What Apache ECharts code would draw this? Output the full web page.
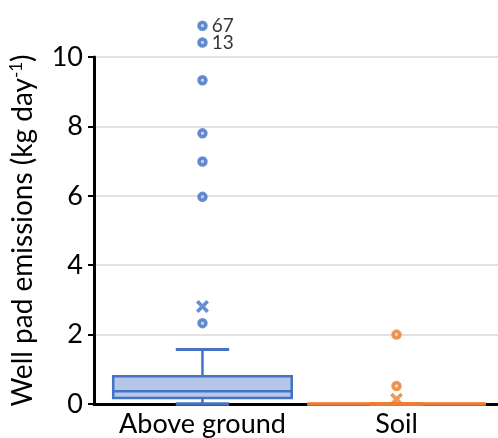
<!DOCTYPE html>
<html>
<head>
<meta charset="utf-8">
<script src="https://cdn.jsdelivr.net/npm/echarts@6/dist/echarts.min.js"></script>
<style>html,body{margin:0;padding:0;background:#fff;}#chart{width:498px;height:438px;}</style>
</head>
<body>
<div id="chart"></div>
<script>
// ---- data ----
const categories = ['Above ground', 'Soil'];
// [min, Q1, median, Q3, max(upper whisker)]
const boxStats = [
  [0, 0.17, 0.37, 0.80, 1.57],
  [0, 0, 0, 0, 0]
];
const means = [2.81, 0.14];
const aboveOutliers = [2.33, 5.97, 6.99, 7.80, 9.33, 10.42, 10.90];
const aboveOutlierLabels = ['', '', '', '', '', '13', '67'];
const soilOutliers = [0.52, 2.00];
const yTicks = [0, 2, 4, 6, 8, 10];

const colors = ['#4472c4', '#ed7d31'];
const fills = ['#b4c7e7', '#f8cbad'];
const FONT = 'Lato';

const boxData = boxStats.map((s, i) => [i].concat(s));

const chart = echarts.init(document.getElementById('chart'), null, {renderer: 'canvas'});
const option = {
  animation: false,
  textStyle: {fontFamily: FONT},
  grid: {left: 92, right: 0, top: 57, bottom: 31.5, containLabel: false},
  xAxis: {
    type: 'value',
    min: -0.559,
    max: 1.523,
    splitLine: {show: false},
    axisTick: {show: false},
    axisLine: {show: true, onZero: false, lineStyle: {color: '#000', width: 3}},
    axisLabel: {
      customValues: [0, 1],
      formatter: v => categories[Math.round(v)],
      color: '#000', fontSize: 27, fontFamily: FONT, margin: 7
    }
  },
  yAxis: {
    type: 'value',
    min: yTicks[0],
    max: yTicks[yTicks.length - 1],
    interval: 2,
    name: 'Well pad emissions (kg day{sup|-1})',
    nameLocation: 'middle',
    nameRotate: 90,
    nameGap: 57,
    nameTextStyle: {
      color: '#000', fontSize: 28, fontFamily: FONT,
      rich: {sup: {fontSize: 17, verticalAlign: 'top', padding: [0,0,12,0], color: '#000', fontFamily: FONT}}
    },
    axisLine: {show: true, onZero: false, lineStyle: {color: '#000', width: 3}},
    axisTick: {show: true, inside: false, length: 6, lineStyle: {color: '#000', width: 2}},
    axisLabel: {color: '#000', fontSize: 27, fontFamily: FONT, margin: 11},
    splitLine: {show: true, lineStyle: {color: '#d9d9d9', width: 1.5}}
  },
  series: [
    {
      type: 'custom',
      data: boxData,
      clip: false,
      z: 3,
      encode: {x: 0, y: [1, 2, 3, 4, 5]},
      renderItem: function (params, api) {
        const i = params.dataIndex;
        const x = api.value(0);
        const mn = api.value(1), q1 = api.value(2), med = api.value(3), q3 = api.value(4), mx = api.value(5);
        const unit = api.size([1, 0])[0];
        const bw = unit * 0.92, cw = unit * 0.275;
        const cx = api.coord([x, 0])[0];
        const y = v => api.coord([x, v])[1];
        const stroke = colors[i];
        const ls = {stroke: stroke, lineWidth: 2.5, fill: null};
        return {
          type: 'group',
          children: [
            {type: 'line', shape: {x1: cx, y1: y(q3), x2: cx, y2: y(mx)}, style: ls},
            {type: 'line', shape: {x1: cx - cw / 2, y1: y(mx), x2: cx + cw / 2, y2: y(mx)}, style: Object.assign({}, ls, {lineWidth: 3})},
            {type: 'line', shape: {x1: cx, y1: y(q1), x2: cx, y2: y(mn)}, style: ls},
            {type: 'line', shape: {x1: cx - cw / 2, y1: y(mn), x2: cx + cw / 2, y2: y(mn)}, style: Object.assign({}, ls, {lineWidth: 3.5})},
            {type: 'rect', shape: {x: cx - bw / 2, y: y(q3), width: bw, height: y(q1) - y(q3)},
              style: {fill: fills[i], stroke: stroke, lineWidth: 2.5}},
            {type: 'line', shape: {x1: cx - bw / 2, y1: y(med), x2: cx + bw / 2, y2: y(med)}, style: Object.assign({}, ls, {lineWidth: i === 1 ? 3.5 : 2.5})}
          ]
        };
      }
    },
    {
      type: 'scatter',
      clip: false,
      z: 4,
      symbol: 'circle',
      symbolSize: 7,
      itemStyle: {color: '#b4c7e7', borderColor: colors[0], borderWidth: 3.5},
      label: {
        show: true, position: 'right', distance: 4,
        formatter: p => aboveOutlierLabels[p.dataIndex],
        color: '#000', fontSize: 19, fontFamily: FONT
      },
      data: aboveOutliers.map(v => [0, v])
    },
    {
      type: 'scatter',
      clip: false,
      z: 4,
      symbol: 'circle',
      symbolSize: 7,
      itemStyle: {color: '#f8cbad', borderColor: colors[1], borderWidth: 3.5},
      data: soilOutliers.map(v => [1, v])
    },
    {
      type: 'scatter',
      clip: false,
      z: 5,
      symbol: 'path://M2,0 L5,3 L8,0 L10,2 L7,5 L10,8 L8,10 L5,7 L2,10 L0,8 L3,5 L0,2 Z',
      symbolSize: 13,
      data: means.map((v, i) => ({value: [i, v], itemStyle: {color: colors[i]}}))
    }
  ]
};
chart.setOption(option);
</script>
</body>
</html>
